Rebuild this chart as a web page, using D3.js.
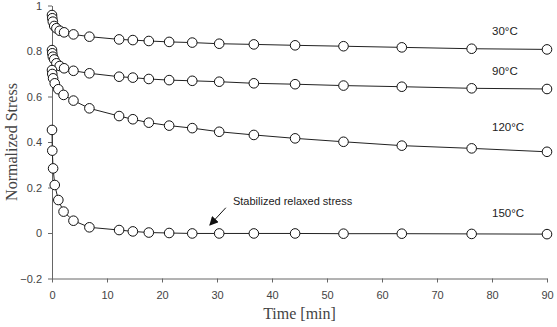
<!DOCTYPE html>
<html>
<head>
<meta charset="utf-8">
<script src="https://cdn.jsdelivr.net/npm/d3@7"></script>
<style>
  body { margin: 0; background: #fff; }
  svg { display: block; }
</style>
</head>
<body>
<div id="chart"></div>
<script>
// time samples (min)
var timeA = [0, 0.05, 0.15, 0.4, 0.8, 1.4, 2.2, 3.9, 6.8, 12.2, 14.7, 17.6, 21.3, 25.5, 30.4, 36.7, 44.2, 53, 63.6, 76.3, 90];
var timeB = [0, 0.05, 0.2, 0.5, 1.15, 2.1, 3.9, 6.8, 12.2, 14.7, 17.6, 21.3, 25.5, 30.4, 36.7, 44.2, 53, 63.6, 76.3, 90];

// normalized stress
var stress30 = [0.958, 0.944, 0.929, 0.910, 0.900, 0.889, 0.882, 0.873, 0.863, 0.851, 0.848, 0.844, 0.840, 0.837, 0.832, 0.829, 0.825, 0.821, 0.816, 0.810, 0.807];
var stress90 = [0.804, 0.790, 0.775, 0.763, 0.746, 0.734, 0.724, 0.713, 0.702, 0.687, 0.683, 0.677, 0.672, 0.669, 0.665, 0.658, 0.654, 0.648, 0.643, 0.636, 0.633];
var stress120 = [0.716, 0.699, 0.680, 0.658, 0.632, 0.607, 0.582, 0.548, 0.514, 0.500, 0.485, 0.472, 0.461, 0.445, 0.431, 0.416, 0.401, 0.384, 0.372, 0.357];
var stress150 = [0.453, 0.362, 0.284, 0.211, 0.145, 0.094, 0.054, 0.025, 0.013, 0.007, 0.002, 0.0, -0.002, -0.002, -0.002, -0.002, -0.003, -0.003, -0.004, -0.005];

var seriesNames = ["30°C", "90°C", "120°C", "150°C"];
var labelPos = [[80, 0.870], [80, 0.695], [80, 0.448], [80, 0.070]];

var xTicks = [0, 10, 20, 30, 40, 50, 60, 70, 80, 90];
var yTicks = [-0.2, 0, 0.2, 0.4, 0.6, 0.8, 1];

// annotation (data units)
var noteText = "Stabilized relaxed stress";
var notePos = [32.9, 0.123];
var arrowFrom = [31.6, 0.111];
var arrowTo = [28.7, 0.035];

var svgWidth = 557;
var svgHeight = 327;
var margin = { top: 5.5, right: 10, bottom: 48.5, left: 52 };
var width = svgWidth - margin.left - margin.right;
var height = svgHeight - margin.top - margin.bottom;

var svg = d3.select("#chart")
    .append("svg")
    .attr("width", svgWidth)
    .attr("height", svgHeight);

svg.append("defs").append("marker")
    .attr("id", "arrow")
    .attr("viewBox", "0 0 10 10")
    .attr("refX", 9)
    .attr("refY", 5)
    .attr("markerWidth", 9)
    .attr("markerHeight", 9)
    .attr("markerUnits", "userSpaceOnUse")
    .attr("orient", "auto")
    .append("path")
    .attr("d", "M0,0 L10,5 L0,10 z")
    .attr("fill", "#111");

var chartGroup = svg.append("g")
    .attr("transform", `translate(${margin.left}, ${margin.top})`);

var x = d3.scaleLinear().domain([0, 90]).range([0, width]);
var y = d3.scaleLinear().domain([-0.2, 1]).range([height, 0]);

// axes
var bottomAxis = d3.axisBottom(x).tickValues(xTicks).tickSize(4).tickSizeOuter(0).tickPadding(9);
var leftAxis = d3.axisLeft(y).tickValues(yTicks).tickSize(4).tickSizeOuter(0).tickPadding(6)
    .tickFormat(d => d3.format("")(+d.toFixed(1)));

var xAxis = chartGroup.append("g")
    .attr("transform", `translate(0, ${height})`)
    .call(bottomAxis);
var yAxis = chartGroup.append("g")
    .call(leftAxis);

[xAxis, yAxis].forEach(function(ax) {
    ax.selectAll("path, line").attr("stroke", "#666");
    ax.selectAll("text")
        .attr("fill", "#444")
        .style("font-family", "'Liberation Sans', Arial, sans-serif")
        .style("font-size", "11px");
});

// series
var series = [
    { name: seriesNames[0], t: timeA, v: stress30 },
    { name: seriesNames[1], t: timeA, v: stress90 },
    { name: seriesNames[2], t: timeB, v: stress120 },
    { name: seriesNames[3], t: timeB, v: stress150 }
];

var line = d3.line()
    .x(d => x(d[0]))
    .y(d => y(d[1]));

series.forEach(function(s, i) {
    var pts = s.t.map((t, j) => [t, s.v[j]]);
    chartGroup.append("path")
        .datum(pts)
        .attr("d", line)
        .attr("fill", "none")
        .attr("stroke", "#222")
        .attr("stroke-width", 1);

    chartGroup.selectAll(".pt" + i)
        .data(pts)
        .enter()
        .append("circle")
        .attr("class", "pt" + i)
        .attr("cx", d => x(d[0]))
        .attr("cy", d => y(d[1]))
        .attr("r", 4.8)
        .attr("fill", "#fff")
        .attr("stroke", "#111")
        .attr("stroke-width", 1);

    chartGroup.append("text")
        .attr("x", x(labelPos[i][0]))
        .attr("y", y(labelPos[i][1]))
        .attr("fill", "#222")
        .style("font-family", "'Liberation Sans', Arial, sans-serif")
        .style("font-size", "11.5px")
        .text(s.name);
});

// annotation
chartGroup.append("text")
    .attr("x", x(notePos[0]))
    .attr("y", y(notePos[1]))
    .attr("fill", "#222")
    .style("font-family", "'Liberation Sans', Arial, sans-serif")
    .style("font-size", "11px")
    .text(noteText);

chartGroup.append("line")
    .attr("x1", x(arrowFrom[0]))
    .attr("y1", y(arrowFrom[1]))
    .attr("x2", x(arrowTo[0]))
    .attr("y2", y(arrowTo[1]))
    .attr("stroke", "#111")
    .attr("stroke-width", 1)
    .attr("marker-end", "url(#arrow)");

// axis labels
chartGroup.append("text")
    .attr("transform", `translate(${width / 2}, ${height + 40})`)
    .attr("text-anchor", "middle")
    .attr("fill", "#444")
    .style("font-family", "'Liberation Serif', 'DejaVu Serif', serif")
    .style("font-size", "16px")
    .text("Time [min]");

chartGroup.append("text")
    .attr("transform", `translate(${-margin.left + 17}, ${y(0.4)}) rotate(-90)`)
    .attr("text-anchor", "middle")
    .attr("fill", "#444")
    .style("font-family", "'Liberation Serif', 'DejaVu Serif', serif")
    .style("font-size", "16px")
    .text("Normalized Stress");
</script>
</body>
</html>
